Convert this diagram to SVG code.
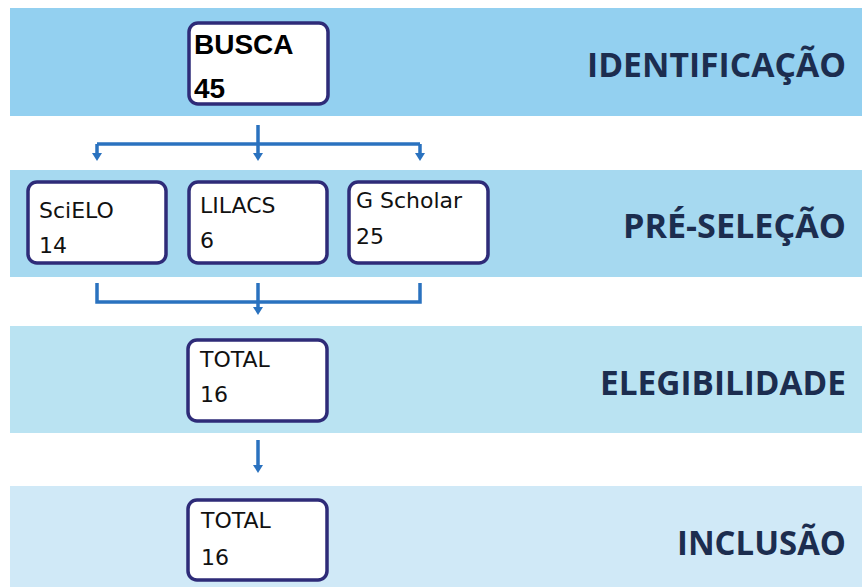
<svg xmlns="http://www.w3.org/2000/svg" width="862" height="587" viewBox="0 0 862 587">
<defs>
<style>
.box{fill:#ffffff;stroke:#2e2b78;stroke-width:3.5}
.lbl{font-family:"Open Sans","Liberation Sans",sans-serif;font-weight:700;fill:#1c2d4f;text-anchor:end;font-size:34px}
.t{font-family:"DejaVu Sans","Liberation Sans",sans-serif;font-size:22px;fill:#111}
.tb{font-family:"Liberation Sans",sans-serif;font-weight:700;font-size:28px;fill:#000}
.con{fill:none;stroke:#2a72bf;stroke-width:3.5}
</style>
<marker id="ad" viewBox="0 0 10 8" refX="5" refY="1" markerWidth="10" markerHeight="8" markerUnits="userSpaceOnUse">
<path d="M0,0 L10,0 L5,8 Z" fill="#2a72bf"/>
</marker>
</defs>
<rect x="0" y="0" width="862" height="587" fill="#ffffff"/>
<g id="bands">
<rect x="10" y="8" width="852" height="108" fill="#93d0f0"/>
<rect x="10" y="170" width="852" height="107" fill="#a6d9f0"/>
<rect x="10" y="326" width="852" height="107" fill="#bae3f2"/>
<rect x="10" y="486" width="852" height="101" fill="#d0e9f7"/>
</g>
<g id="stage-labels">
<text class="lbl" x="846" y="77" textLength="259" lengthAdjust="spacingAndGlyphs">IDENTIFICAÇÃO</text>
<text class="lbl" x="846" y="238" textLength="223" lengthAdjust="spacingAndGlyphs">PRÉ-SELEÇÃO</text>
<text class="lbl" x="846" y="395" textLength="246" lengthAdjust="spacingAndGlyphs">ELEGIBILIDADE</text>
<text class="lbl" x="846" y="555" textLength="169" lengthAdjust="spacingAndGlyphs">INCLUSÃO</text>
</g>
<g id="connectors">
<path class="con" d="M258,125 V154" marker-end="url(#ad)"/>
<path class="con" d="M97,144 H420"/>
<path class="con" d="M97,144 V154" marker-end="url(#ad)"/>
<path class="con" d="M420,144 V154" marker-end="url(#ad)"/>
<path class="con" d="M97,283 V302 H420 V283"/>
<path class="con" d="M258,283 V308" marker-end="url(#ad)"/>
<path class="con" d="M258,440 V466" marker-end="url(#ad)"/>
</g>
<g id="node-busca">
<rect class="box" x="189" y="23" width="139" height="81" rx="9"/>
<text class="tb" x="194" y="54">BUSCA</text>
<text class="tb" x="194" y="98">45</text>
</g>
<g id="node-scielo">
<rect class="box" x="28" y="182" width="138" height="81" rx="9"/>
<text class="t" x="39" y="218">SciELO</text>
<text class="t" x="39" y="253">14</text>
</g>
<g id="node-lilacs">
<rect class="box" x="189" y="182" width="138" height="81" rx="9"/>
<text class="t" x="200" y="213">LILACS</text>
<text class="t" x="200" y="248">6</text>
</g>
<g id="node-gscholar">
<rect class="box" x="349" y="182" width="139" height="81" rx="9"/>
<text class="t" x="356" y="208">G Scholar</text>
<text class="t" x="356" y="244">25</text>
</g>
<g id="node-total-eleg">
<rect class="box" x="188" y="340" width="139" height="81" rx="9"/>
<text class="t" x="200" y="367">TOTAL</text>
<text class="t" x="200" y="402">16</text>
</g>
<g id="node-total-incl">
<rect class="box" x="188" y="500" width="139" height="80" rx="9"/>
<text class="t" x="201" y="528">TOTAL</text>
<text class="t" x="201" y="565">16</text>
</g>
</svg>
